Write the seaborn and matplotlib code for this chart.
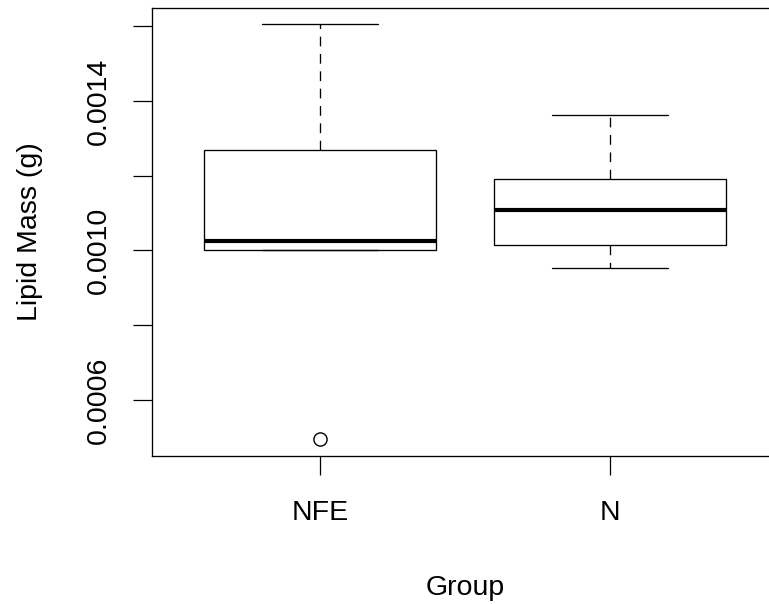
import matplotlib
matplotlib.use("Agg")
import matplotlib.pyplot as plt
import seaborn as sns
import pandas as pd

# Data
groups = ["NFE", "N"]
nfe_values = [0.000495, 0.0010013, 0.0010013, 0.0010013, 0.001024,
              0.00115, 0.001269, 0.00142, 0.001605]
n_values = [0.000953, 0.001015, 0.001108, 0.001191, 0.001361]
ytick_values = [0.0006, 0.0008, 0.0010, 0.0012, 0.0014, 0.0016]
ytick_labels = ["0.0006", "", "0.0010", "", "0.0014", ""]

df = pd.DataFrame({
    "Group": ["NFE"] * len(nfe_values) + ["N"] * len(n_values),
    "Lipid": nfe_values + n_values,
})

sns.set_style("white")
plt.rcParams["font.family"] = ["Liberation Sans", "DejaVu Sans"]
plt.rcParams["lines.scale_dashes"] = False
plt.rcParams["text.color"] = "black"
plt.rcParams["axes.labelcolor"] = "black"
plt.rcParams["xtick.color"] = "black"
plt.rcParams["ytick.color"] = "black"

W, H = 769, 604
fig = plt.figure(figsize=(7.692, 6.042), dpi=100)
ax = fig.add_axes([151.8 / W, (H - 455.8) / H, (778.2 - 151.8) / W, (455.8 - 7.8) / H])

sns.boxplot(
    data=df, x="Group", y="Lipid", order=groups, ax=ax,
    color="white", linecolor="black", linewidth=0.95, width=0.8, whis=1.5,
    fliersize=9.5,
    medianprops=dict(color="black", linewidth=3.0),
    whiskerprops=dict(color="black", linewidth=0.95, linestyle=(0, (7, 5.5))),
    capprops=dict(color="black", linewidth=0.95),
    boxprops=dict(facecolor="white", edgecolor="black", linewidth=0.95),
    flierprops=dict(marker="o", markerfacecolor="none", markeredgecolor="black",
                    markeredgewidth=1.0),
)

ymin = min(nfe_values + n_values)
ymax = max(nfe_values + n_values)
pad = 0.04 * (ymax - ymin)
ax.set_ylim(ymin - pad, ymax + pad)
ax.set_xlim(-0.58, 1.58)

ax.set_yticks(ytick_values)
ax.set_yticklabels(ytick_labels, rotation=90, va="center", fontsize=20.5, color="black")
ax.set_xticks([0, 1])
ax.set_xticklabels(groups, fontsize=20.5, color="black")
ax.tick_params(axis="both", direction="out", length=13.7, width=0.9, color="black",
               left=True, bottom=True)
ax.tick_params(axis="y", pad=15)
ax.tick_params(axis="x", pad=18)

for name, s in ax.spines.items():
    s.set_visible(name != "right")
    s.set_color("black")
    s.set_linewidth(0.95)

ax.set_xlabel("Group", fontsize=20.5, labelpad=35, color="black")
ax.set_ylabel("Lipid Mass (g)", fontsize=20.5, labelpad=31, color="black")
ax.grid(False)

fig.savefig("out.png", dpi=100)
